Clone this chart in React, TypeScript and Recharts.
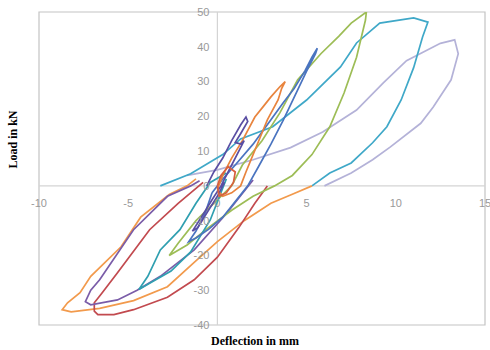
import {
  LineChart,
  Line,
  XAxis,
  YAxis,
  ReferenceLine,
  ReferenceArea,
  ReferenceDot,
} from "recharts";

type Pt = { x: number; y: number };
const pts = (a: number[][]): Pt[] => a.map(([x, y]) => ({ x, y }));

const xTicks = [-10, -5, 0, 5, 10, 15];
const yTicks = [50, 40, 30, 20, 10, 0, -10, -20, -30, -40];

// one array per hysteresis branch
const lavenderCycle = pts([
  [-1.7, 3], [0, 4.6], [2, 7.5], [4.1, 11], [5.9, 15.5], [7.8, 21.8], [9.3, 29.6],
  [10.6, 36], [12.5, 41], [13.3, 42], [13.5, 38], [13.1, 30.5], [12.1, 22.7],
  [11.4, 18], [9.7, 11.2], [8.7, 7.5], [7.5, 3.7], [6, 0],
]);

const tealCycle = pts([
  [-3.2, 0], [-1.5, 3.5], [0.3, 9], [1.3, 13.5], [3.1, 17], [5.0, 24.7], [6.9, 34.2],
  [7.8, 41.1], [9.1, 46.8], [11, 48.3], [11.8, 47.1], [11.5, 42.8], [11, 34],
  [10.3, 24.7], [9.5, 17], [8.7, 12.4], [7.5, 6.6], [6.3, 3.7], [5.3, 0],
]);

const orangeBigCycle = pts([
  [5.3, 0], [4.3, -2.2], [3, -5], [1.5, -10], [0, -16], [-1.3, -22],
  [-2.8, -29], [-4.7, -33], [-6.6, -35.2], [-8.2, -36.2], [-8.7, -35.6],
  [-8.4, -33.6], [-7.7, -30.7], [-7.1, -26], [-5.4, -17.5], [-4.3, -9],
  [-2.7, -2.5], [-1.7, 0], [-1.2, 2],
]);

const greenCycle = pts([
  [0.8, 0], [1.4, 6], [2.5, 13], [3.5, 21], [4.5, 30.5], [5.8, 38], [6.8, 43],
  [7.5, 46.8], [8.35, 50], [8.3, 47.7], [7.8, 37], [7.1, 26.7], [6.3, 17],
  [5.3, 9], [4.2, 3], [3.2, 0], [2, -3], [0.8, -7], [-0.5, -12], [-1.7, -17],
  [-2.7, -20], [-2.2, -16.5], [-1.2, -10], [0, -4], [0.8, 0],
]);

const blueCycle = pts([
  [-0.3, -2], [0.3, 2], [1, 6], [2, 12], [3, 19], [3.7, 24], [4.3, 28],
  [4.9, 33], [5.3, 37], [5.6, 39.6], [5.5, 38], [5.0, 33], [4.5, 27.6],
  [3.7, 19], [3.0, 12], [2.3, 5.5], [1.7, 0], [1.0, -4.5], [0.3, -9],
  [-0.5, -12.5], [-1.2, -15], [-1.6, -16], [-1.2, -13], [-0.7, -8], [-0.3, -2],
]);

const tealNegCycle = pts([
  [0.5, 2], [-0.4, -9.8], [-1.5, -19], [-2.6, -24.5], [-3.8, -28], [-4.4, -29.8],
  [-3.9, -26], [-3.2, -18.4], [-2.1, -12.6], [-1.2, -5], [-0.4, 1], [0.5, 3.7],
]);

const orangeCycle = pts([
  [0, -1], [0.3, 3], [0.8, 8], [1.4, 13], [2.1, 19.8], [2.6, 23], [3.0, 25.6],
  [3.5, 28.5], [3.8, 30], [3.6, 28], [3.4, 24.7], [2.8, 19], [2.4, 14], [2.0, 9],
  [1.6, 4], [1.3, 0], [0.8, -2], [0.3, -3], [0, -1],
]);

const indigoCycle = pts([
  [-0.6, 0], [-0.2, 4], [0.3, 8], [0.8, 13], [1.3, 17.5], [1.6, 19.8], [1.7, 18.5],
  [1.3, 15], [1.0, 12.5], [1.3, 12], [1.5, 13], [1.2, 10], [0.7, 5], [0.2, 0],
  [-0.3, -4], [-0.9, -9], [-1.4, -13], [-1.1, -12], [-0.5, -7], [0, -3], [0.4, 1],
]);

const purpleCycle = pts([
  [2, 1.7], [0.5, -8], [-1.3, -18.4], [-3.2, -26], [-4.5, -30], [-5.6, -32.8],
  [-7.1, -34.2], [-7.4, -33.3], [-7.1, -30], [-6.6, -27], [-4.7, -12.6],
  [-2.8, -3], [-1.5, 0], [-1, 1.5],
]);

const redCycle = pts([
  [-0.8, 1], [-2.2, -5], [-3.8, -12.6], [-5.6, -25], [-6.5, -31], [-6.9, -33.6],
  [-6.9, -36], [-6.7, -37], [-5.8, -37], [-4.7, -35.6], [-2.8, -32], [-1.3, -27],
  [0, -20.5], [1.2, -12], [2.1, -5], [2.8, 0],
]);

const centerCycle = pts([
  [0, 0], [0.2, 3], [0.6, 5.5], [1, 4], [0.9, 1], [0.5, -2], [0.1, -3], [0, 0],
]);

const series: { data: Pt[]; color: string }[] = [
  { data: lavenderCycle, color: "#b4b2d8" },
  { data: tealCycle, color: "#3fa8c8" },
  { data: orangeBigCycle, color: "#f29a4c" },
  { data: redCycle, color: "#c24a4f" },
  { data: purpleCycle, color: "#7a5ca8" },
  { data: greenCycle, color: "#9dbd56" },
  { data: tealNegCycle, color: "#2f9fb0" },
  { data: blueCycle, color: "#4a74c0" },
  { data: orangeCycle, color: "#e8843e" },
  { data: indigoCycle, color: "#5a4ea3" },
  { data: centerCycle, color: "#d8603e" },
];

const tickStyle = { fill: "#999999", fontSize: 11, fontFamily: "Liberation Sans, Arial, sans-serif" };
const titleStyle = { fill: "#000", fontSize: 12, fontWeight: 700, fontFamily: "Liberation Serif, serif" };

export default function App() {
  return (
    <div style={{ position: "absolute", left: 0, top: 0, width: 490, height: 350, background: "#fff" }}>
      <LineChart width={490} height={350} margin={{ top: 12, right: 5, bottom: 0, left: 0 }}>
        <XAxis
          dataKey="x"
          type="number"
          domain={[-10, 15]}
          ticks={xTicks}
          allowDataOverflow
          tick={false}
          tickLine={false}
          axisLine={false}
          height={25}
          label={{ value: "Deflection in mm", position: "insideBottom", offset: 5, dx: -7, ...titleStyle }}
        />
        <YAxis
          type="number"
          domain={[-40, 50]}
          ticks={yTicks}
          allowDataOverflow
          tick={false}
          tickLine={false}
          axisLine={false}
          width={39}
          label={{ value: "Load in kN", angle: -90, position: "insideLeft", offset: 13, ...titleStyle }}
        />
        <ReferenceArea x1={-10} x2={15} y1={-40} y2={50} fill="none" stroke="#c4c4c4" strokeWidth={1.2} />
        <ReferenceLine x={0} stroke="#d4d4d4" strokeWidth={1.2} />
        <ReferenceLine y={0} stroke="#d4d4d4" strokeWidth={1.2} />
        {yTicks.map((v) => (
          <ReferenceDot
            key={"y" + v}
            x={0}
            y={v}
            r={0}
            fill="none"
            stroke="none"
            label={{ value: v, position: "left", offset: 8, ...tickStyle }}
          />
        ))}
        {xTicks.map((v) => (
          <ReferenceDot
            key={"x" + v}
            x={v}
            y={0}
            r={0}
            fill="none"
            stroke="none"
            label={{ value: v, position: "bottom", offset: 13, ...tickStyle }}
          />
        ))}
        {series.map((s, i) => (
          <Line
            key={i}
            data={s.data}
            dataKey="y"
            type="linear"
            stroke={s.color}
            strokeWidth={1.7}
            dot={false}
            isAnimationActive={false}
          />
        ))}
      </LineChart>
    </div>
  );
}
